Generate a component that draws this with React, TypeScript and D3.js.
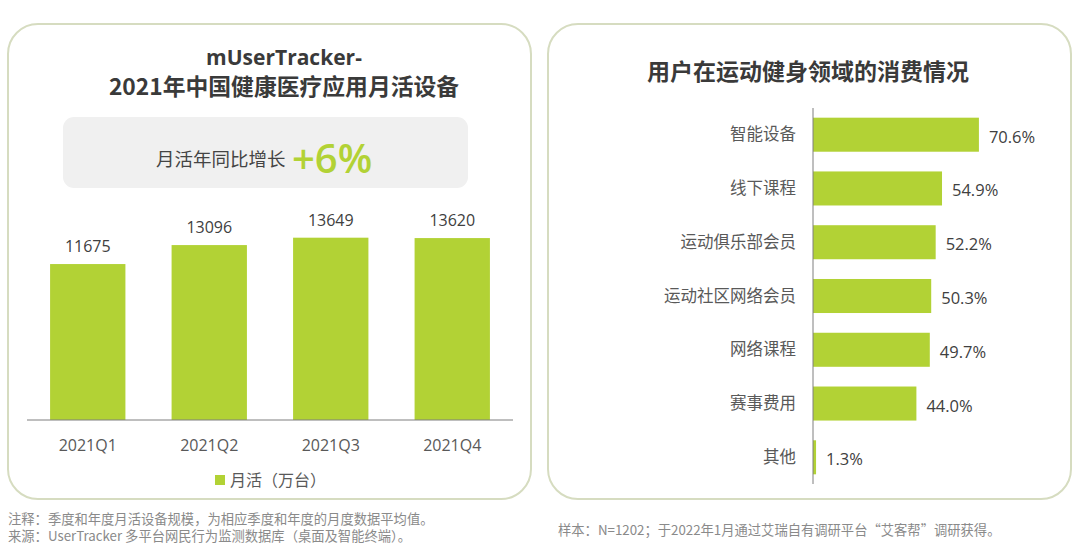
import React from 'react';
import * as d3 from 'd3';

// left chart: monthly active devices (10k units)
const quarters = ['2021Q1', '2021Q2', '2021Q3', '2021Q4'];
const activeDevices = [11675, 13096, 13649, 13620];

// right chart: spending share in fitness
const spendCategories = ['智能设备', '线下课程', '运动俱乐部会员', '运动社区网络会员', '网络课程', '赛事费用', '其他'];
const spendShares = [70.6, 54.9, 52.2, 50.3, 49.7, 44.0, 1.3];

const GREEN = '#b2d235';
const FONT = '"Open Sans", "Noto Sans CJK SC", sans-serif';
const CJK = '"Noto Sans CJK SC", "Open Sans", sans-serif';

export default function App() {
  // left scales
  const x = d3.scaleBand().domain(quarters).range([27, 513]).paddingInner(0.38).paddingOuter(0.19);
  const y = d3.scaleLinear().domain([0, 14000]).range([420, 233]);

  // right scales
  const yb = d3.scaleBand().domain(spendCategories).range([108, 484]).paddingInner(0.367).paddingOuter(0.18);
  const xb = d3.scaleLinear().domain([0, 100]).range([813, 1048]);

  return (
    <div style={{ position: 'absolute', left: 0, top: 0 }}>
      <svg width={1080} height={555} style={{ display: 'block', background: '#fff' }}>
        {/* panels */}
        <rect x={8} y={24} width={523} height={475} rx={30} fill="#fff" stroke="#d6dcc0" strokeWidth={2} />
        <rect x={548} y={24} width={523} height={475} rx={30} fill="#fff" stroke="#d6dcc0" strokeWidth={2} />

        {/* left title */}
        <g fontFamily={CJK} fontWeight={700} fill="#3a3a3a" textAnchor="middle">
          <text x={284} y={65} fontSize={21} fontFamily={FONT}>mUserTracker-</text>
          <text x={284} y={95} fontSize={22.8}>2021年中国健康医疗应用月活设备</text>
        </g>

        {/* growth box */}
        <rect x={63} y={117} width={405} height={71} rx={11} fill="#f0f0f0" />
        <text x={156} y={166} fontSize={18.5} fontFamily={CJK} fill="#444">月活年同比增长</text>
        <text x={292} y={173} fontSize={40} fontFamily={FONT} fontWeight={600} fill={GREEN}>+6%</text>

        {/* left bars */}
        {quarters.map((q, i) => (
          <g key={q}>
            <rect x={x(q)} y={y(activeDevices[i])} width={x.bandwidth()} height={y(0) - y(activeDevices[i])} fill={GREEN} />
            <text x={x(q)! + x.bandwidth() / 2} y={y(activeDevices[i]) - 12} textAnchor="middle"
              fontSize={16} fontFamily={FONT} fill="#404040">{activeDevices[i]}</text>
            <text x={x(q)! + x.bandwidth() / 2} y={451} textAnchor="middle"
              fontSize={16} fontFamily={FONT} fill="#595959">{q}</text>
          </g>
        ))}
        <line x1={27} x2={513} y1={420} y2={420} stroke="#7f7f7f" strokeWidth={1} />

        {/* legend */}
        <rect x={215} y={475} width={10} height={10} fill={GREEN} />
        <text x={230} y={486} fontSize={16} fontFamily={CJK} fill="#595959">月活（万台）</text>

        {/* right title */}
        <text x={808} y={80} textAnchor="middle" fontSize={23} fontWeight={700} fontFamily={CJK} fill="#3a3a3a">
          用户在运动健身领域的消费情况
        </text>

        {/* right bars */}
        {spendCategories.map((c, i) => (
          <g key={c}>
            <rect x={xb(0)} y={yb(c)} width={xb(spendShares[i]) - xb(0)} height={yb.bandwidth()} fill={GREEN} />
            <text x={796} y={yb(c)! + yb.bandwidth() / 2 + 5.5} textAnchor="end"
              fontSize={16.5} fontFamily={CJK} fill="#595959">{c}</text>
            <text x={xb(spendShares[i]) + 10} y={yb(c)! + yb.bandwidth() / 2 + 8} fontSize={16.5}
              fontFamily={FONT} fill="#404040">{spendShares[i].toFixed(1)}%</text>
          </g>
        ))}
        <line x1={813} x2={813} y1={108} y2={484} stroke="#7f7f7f" strokeWidth={1} />

        {/* footnotes */}
        <g fontSize={13.3} fontFamily={CJK} fill="#8a8a8a">
          <text x={8} y={524}>注释：季度和年度月活设备规模，为相应季度和年度的月度数据平均值。</text>
          <text x={8} y={541}>来源：UserTracker 多平台网民行为监测数据库（桌面及智能终端）。</text>
          <text x={558} y={535}>样本：N=1202；于2022年1月通过艾瑞自有调研平台“艾客帮”调研获得。</text>
        </g>
      </svg>
    </div>
  );
}
